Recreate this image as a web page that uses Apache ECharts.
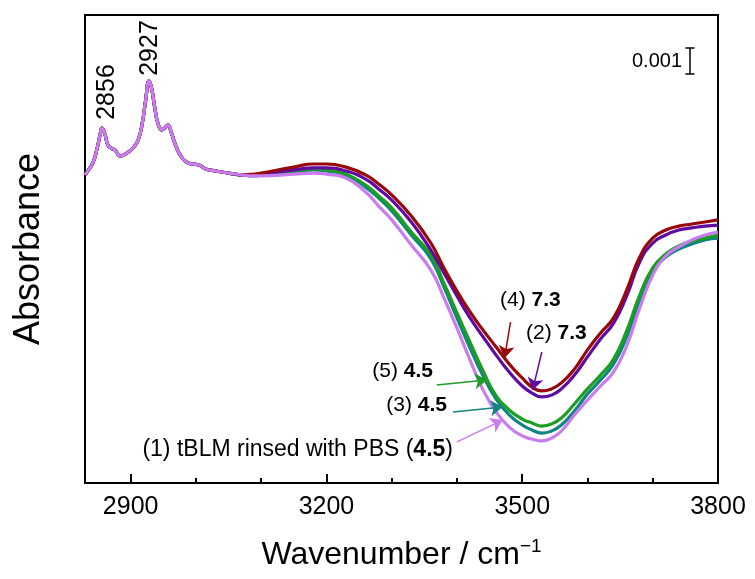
<!DOCTYPE html>
<html><head><meta charset="utf-8">
<script src="https://cdn.jsdelivr.net/npm/echarts@6.0.0/dist/echarts.min.js"></script>
<style>html,body{margin:0;padding:0;background:#fff}#c{width:755px;height:579px}</style>
</head><body><div id="c"></div>
<script>
// Wavenumbers (cm^-1) of the C-H stretching region, shared by all spectra
const wnCH = [2830,2833,2842,2848,2853,2856,2860,2865,2870,2876,2884,2894,2905,2912,2918,2923,2928,2932,2937,2942,2948,2952,2957,2962,2967,2975,2985,2995,3005,3015,3030,3050,3070];
// Absorbance (x 10^-3, arbitrary offset) in the C-H region (curves overlap)
const absCH = [11.85,11.96,12.31,12.81,13.38,13.65,13.46,13.00,12.88,12.81,12.58,12.69,12.92,13.23,13.88,14.73,15.46,15.19,14.42,13.81,13.58,13.65,13.77,13.50,13.12,12.65,12.35,12.27,12.23,12.08,12.00,11.92,11.85];
// Wavenumbers of the O-H stretching region
const wnOH = [3090,3100,3150,3180,3200,3230,3260,3280,3300,3330,3360,3380,3400,3420,3440,3460,3480,3500,3515,3530,3545,3560,3580,3600,3620,3640,3660,3680,3700,3720,3740,3760,3780,3800];
// (1) tBLM rinsed with PBS (4.5)
const absOH1 = [11.81,11.81,11.88,11.92,11.88,11.73,11.19,10.65,10.12,9.15,8.19,7.12,5.96,4.73,3.58,2.73,2.15,1.81,1.69,1.62,1.73,2.00,2.62,3.19,3.73,4.27,5.27,6.73,8.00,8.73,9.08,9.35,9.54,9.65];
// (2) 7.3
const absOH2 = [11.85,11.88,12.04,12.12,12.12,12.00,11.69,11.31,10.88,10.04,8.96,8.08,7.19,6.35,5.62,4.92,4.27,3.73,3.46,3.31,3.38,3.62,4.15,4.85,5.54,6.15,7.19,8.50,9.23,9.54,9.73,9.81,9.88,9.92];
// (3) 4.5
const absOH3 = [11.81,11.85,11.96,12.04,12.00,11.85,11.38,10.96,10.46,9.54,8.62,7.54,6.35,5.19,4.12,3.23,2.62,2.23,2.04,1.92,2.00,2.23,2.77,3.42,3.96,4.58,5.62,7.04,8.12,8.69,9.00,9.19,9.35,9.42];
// (4) 7.3
const absOH4 = [11.88,11.92,12.15,12.27,12.27,12.15,11.85,11.50,11.08,10.27,9.23,8.27,7.38,6.58,5.88,5.23,4.58,4.04,3.69,3.54,3.62,3.85,4.38,5.12,5.77,6.35,7.42,8.69,9.42,9.73,9.88,9.96,10.04,10.12];
// (5) 4.5
const absOH5 = [11.85,11.88,12.00,12.08,12.04,11.88,11.46,11.04,10.58,9.65,8.77,7.69,6.54,5.42,4.31,3.35,2.81,2.46,2.31,2.19,2.27,2.50,3.04,3.62,4.15,4.77,5.85,7.23,8.27,8.81,9.12,9.31,9.42,9.54];

const xMajorTicks = [2900,3200,3500,3800];
const xMinorTicks = [3000,3100,3300,3400,3600,3700];
const peakLabels = ['2856','2927'];

function build(oh){
  return wnCH.map((w,i)=>[w,absCH[i]]).concat(wnOH.map((w,i)=>[w,oh[i]]));
}

const colors = {c1:'#c97cf0', c2:'#5f0aa0', c3:'#0f8580', c4:'#980808', c5:'#1c9e22'};

function arrow(x1,y1,x2,y2,color){
  return [{coord:[x1,y1], symbol:'none', lineStyle:{color:color,width:1.5,type:'solid'}},
          {coord:[x2,y2], symbol:'arrow'}];
}
function seg(x1,y1,x2,y2){
  return [{coord:[x1,y1], symbol:'none', lineStyle:{color:'#000',width:1.5,type:'solid'}},
          {coord:[x2,y2], symbol:'none'}];
}

const chart = echarts.init(document.getElementById('c'));
const lineSeries = (name, oh, color, extra) => Object.assign({
  name, type:'line', data: build(oh), showSymbol:false, smooth:0.5,
  lineStyle:{color, width:3.2}, itemStyle:{color}, silent:true, emphasis:{disabled:true}
}, extra||{});

const bold = (sz)=>({b:{fontWeight:'bold',fontSize:sz,fontFamily:'Liberation Sans'}});

chart.setOption({
  animation:false,
  backgroundColor:'#fff',
  grid:{left:85,right:37,top:15,bottom:96,show:true,borderColor:'#000',borderWidth:2,backgroundColor:'transparent'},
  xAxis:[{
    type:'value', min:2830, max:3800,
    axisLine:{show:true,lineStyle:{color:'#000',width:2}},
    axisTick:{show:true,inside:true,length:9,lineStyle:{color:'#000',width:2},customValues:xMajorTicks},
    axisLabel:{show:true,customValues:xMajorTicks,color:'#000',fontSize:25,fontFamily:'Liberation Sans',margin:12,formatter:(v)=>String(v)},
    splitLine:{show:false},
    name:'Wavenumber / cm{sup|\u22121}', nameLocation:'middle', nameGap:54,
    nameTextStyle:{color:'#000',fontSize:32,fontFamily:'Liberation Sans',
      rich:{sup:{fontSize:19,verticalAlign:'top',padding:[0,0,18,0],fontFamily:'Liberation Sans',color:'#000'}}}
  },{
    type:'value', min:2830, max:3800, position:'bottom',
    axisLine:{show:false},
    axisTick:{show:true,inside:true,length:5,lineStyle:{color:'#000',width:2},customValues:xMinorTicks},
    axisLabel:{show:false}, splitLine:{show:false}
  }],
  yAxis:{
    type:'value', min:0, max:18,
    axisLine:{show:true,lineStyle:{color:'#000',width:2}},
    axisTick:{show:false}, axisLabel:{show:false}, splitLine:{show:false},
    name:'Absorbance', nameLocation:'middle', nameGap:38,
    nameTextStyle:{color:'#000',fontSize:36,fontFamily:'Liberation Sans'}
  },
  series:[
    lineSeries('(3) 4.5', absOH3, colors.c3),
    lineSeries('(5) 4.5', absOH5, colors.c5),
    lineSeries('(2) 7.3', absOH2, colors.c2),
    lineSeries('(4) 7.3', absOH4, colors.c4),
    lineSeries('(1) tBLM rinsed with PBS (4.5)', absOH1, colors.c1, {
      markLine:{
        silent:true, animation:false, symbolSize:12, label:{show:false}, emphasis:{disabled:true},
        data:[
          arrow(3482,6.19,3473,4.81,colors.c4),
          arrow(3530,5.04,3516,3.58,colors.c2),
          arrow(3369,3.77,3446,3.96,colors.c5),
          arrow(3394,2.73,3470,2.92,colors.c3),
          arrow(3400,1.58,3470,2.42,colors.c1),
          seg(3757,15.73,3757,16.73),
          seg(3750,16.73,3764,16.73),
          seg(3750,15.73,3764,15.73)
        ]
      }
    })
  ],
  graphic:[
    {type:'text', x:682, y:61, style:{text:'0.001', fill:'#000', font:'20px "Liberation Sans"', align:'right', verticalAlign:'middle'}},
    {type:'text', x:107, y:92, rotation:Math.PI/2, style:{text:peakLabels[0], fill:'#000', font:'25px "Liberation Sans"', align:'center', verticalAlign:'middle'}},
    {type:'text', x:150, y:48, rotation:Math.PI/2, style:{text:peakLabels[1], fill:'#000', font:'25px "Liberation Sans"', align:'center', verticalAlign:'middle'}},
    {type:'text', x:500, y:300, style:{text:'(4) {b|7.3}', fill:'#000', font:'21px "Liberation Sans"', verticalAlign:'middle', rich:bold(21)}},
    {type:'text', x:526, y:333, style:{text:'(2) {b|7.3}', fill:'#000', font:'21px "Liberation Sans"', verticalAlign:'middle', rich:bold(21)}},
    {type:'text', x:433, y:371, style:{text:'(5) {b|4.5}', fill:'#000', font:'21px "Liberation Sans"', align:'right', verticalAlign:'middle', rich:bold(21)}},
    {type:'text', x:447, y:405, style:{text:'(3) {b|4.5}', fill:'#000', font:'21px "Liberation Sans"', align:'right', verticalAlign:'middle', rich:bold(21)}},
    {type:'text', x:453, y:450, style:{text:'(1) tBLM rinsed with PBS ({b|4.5})', fill:'#000', font:'23px "Liberation Sans"', align:'right', verticalAlign:'middle', rich:bold(23)}}
  ]
});
</script></body></html>
